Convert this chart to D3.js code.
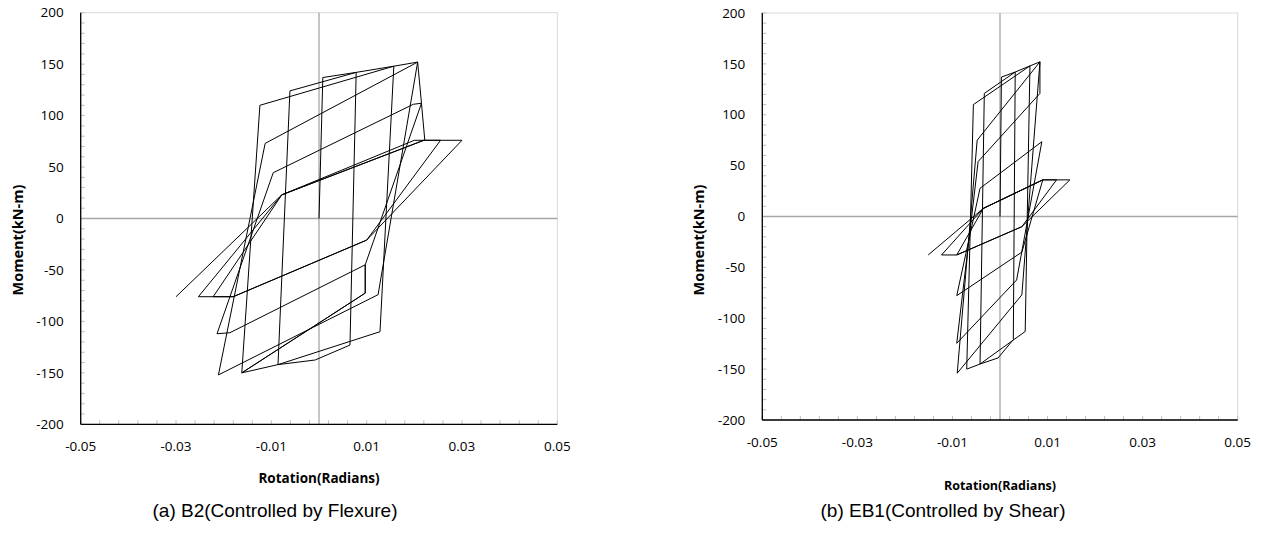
<!DOCTYPE html>
<html>
<head>
<meta charset="utf-8">
<script src="https://cdn.jsdelivr.net/npm/d3@7"></script>
<style>
  body { margin: 0; background: #fff; }
  svg { display: block; }
</style>
</head>
<body>
<svg id="chart" width="1261" height="535"></svg>
<script>
// tick values shared by both panels
const xTicks = [-0.05, -0.03, -0.01, 0.01, 0.03, 0.05];
const xTickLabels = ["-0.05", "-0.03", "-0.01", "0.01", "0.03", "0.05"];
const yTicks = [-200, -150, -100, -50, 0, 50, 100, 150, 200];

// (a) B2 - rotation / moment pairs in loading order
const b2Rotation = [0, 0.0008, 0.0078, 0.0065, -0.0008, -0.0086,
  -0.0061, 0.0078, 0.0157, 0.0128, -0.0086, -0.0162,
  -0.0124, 0.0157, 0.0207, 0.0124, -0.0211,
  -0.0113, 0.0207, 0.0215, 0.0198, -0.0096, -0.0214,
  -0.0187, 0.0097, 0.0097, -0.0162, 0.0097, 0.0097,
  0.0215, 0.0222, 0.0200, -0.0078, -0.0222,
  -0.0180, 0.0100, 0.0255, 0.0220, -0.0078, -0.0253,
  -0.0180, 0.0100, 0.0300, 0.0220, -0.0078, -0.0300];
const b2Moment = [0, 137, 142, -123, -137.5, -142,
  124, 142, 148, -110, -142, -150,
  110, 148, 152, -74, -152,
  73, 152, 112, 111, 44.5, -112,
  -111, -45, -72.5, -150, -72.5, -45,
  112, 76, 76, 23, -76,
  -76, -21, 76, 76, 23, -76,
  -76, -21, 76, 76, 23, -76];

// (b) EB1
const eb1Rotation = [0, 0.0003, 0.0032, 0.0028, -0.0004, -0.0042,
  -0.0033, 0.0032, 0.0063, 0.0053, -0.0042, -0.0070,
  -0.0056, 0.0063, 0.0084, 0.0046, -0.0090,
  -0.0048, 0.0084, 0.0084, -0.0046, -0.0091,
  0.0035, 0.0088, -0.0042, -0.0091, 0.0046, 0.0090,
  -0.0035, -0.0091, 0.0046, 0.0119, 0.0090, -0.0035, -0.0123, -0.0091,
  0.0046, 0.0147, 0.0090, -0.0035, -0.0151];
const eb1Moment = [0, 137, 142, -121, -139, -145,
  121, 142, 148, -113, -145, -150,
  110, 148, 152, -77, -154,
  75, 152, 121, 54, -124.6,
  -62.4, 73.5, 27.7, -77.8, -35, 36,
  8, -37.8, -10, 36, 36, 8, -37.8, -37.8,
  -10, 36, 36, 8, -37.8];

const panels = [
  { rot: b2Rotation, mom: b2Moment, x0: 80.7, x1: 557.3, y0: 12.7, y1: 424.3,
    xTitleY: 483, xTitleSize: 13.5, caption: "(a) B2(Controlled by Flexure)", capX: 275 },
  { rot: eb1Rotation, mom: eb1Moment, x0: 762.3, x1: 1237.7, y0: 13, y1: 420,
    xTitleY: 490, xTitleSize: 12.5, caption: "(b) EB1(Controlled by Shear)", capX: 943 }
];

const svg = d3.select("#chart");
const tickFont = "'Open Sans', sans-serif";

panels.forEach(p => {
  const x = d3.scaleLinear().domain([-0.05, 0.05]).range([p.x0, p.x1]);
  const y = d3.scaleLinear().domain([-200, 200]).range([p.y1, p.y0]);
  const g = svg.append("g");

  // light plot-area frame
  g.append("rect")
    .attr("x", p.x0).attr("y", p.y0)
    .attr("width", p.x1 - p.x0).attr("height", p.y1 - p.y0)
    .attr("fill", "none").attr("stroke", "#d9d9d9").attr("stroke-width", 1);

  // minor ticks inside the plot
  const xMinor = d3.range(0, 26).map(i => -0.05 + i * 0.004);
  g.selectAll(".xm").data(xMinor).enter().append("line")
    .attr("x1", d => x(d)).attr("x2", d => x(d))
    .attr("y1", p.y1).attr("y2", p.y1 - 4)
    .attr("stroke", "#bfbfbf").attr("stroke-width", 1);
  const yMinor = d3.range(-200, 201, 10);
  g.selectAll(".ym").data(yMinor).enter().append("line")
    .attr("x1", p.x0).attr("x2", p.x0 + 4)
    .attr("y1", d => y(d)).attr("y2", d => y(d))
    .attr("stroke", "#bfbfbf").attr("stroke-width", 1);

  // zero cross lines
  g.append("line").attr("x1", x(0)).attr("x2", x(0)).attr("y1", p.y0).attr("y2", p.y1)
    .attr("stroke", "#a6a6a6").attr("stroke-width", 1.3);
  g.append("line").attr("x1", p.x0).attr("x2", p.x1).attr("y1", y(0)).attr("y2", y(0))
    .attr("stroke", "#a6a6a6").attr("stroke-width", 1.3);

  // hysteresis curve
  const pts = p.rot.map((r, i) => [r, p.mom[i]]);
  g.append("path")
    .datum(pts)
    .attr("fill", "none")
    .attr("stroke", "#000")
    .attr("stroke-width", 1)
    .attr("stroke-linejoin", "miter")
    .attr("d", d3.line().x(d => x(d[0])).y(d => y(d[1])));

  // axes lines
  g.append("line").attr("x1", p.x0).attr("x2", p.x0).attr("y1", p.y0).attr("y2", p.y1)
    .attr("stroke", "#000").attr("stroke-width", 1.3);
  g.append("line").attr("x1", p.x0).attr("x2", p.x1).attr("y1", p.y1).attr("y2", p.y1)
    .attr("stroke", "#000").attr("stroke-width", 1.3);

  // tick labels
  g.selectAll(".yl").data(yTicks).enter().append("text")
    .attr("x", p.x0 - 17).attr("y", d => y(d)).attr("dy", "0.35em")
    .attr("text-anchor", "end")
    .style("font-family", tickFont).style("font-size", "13.5px").style("fill", "#000")
    .text(d => d);
  g.selectAll(".xl").data(xTicks).enter().append("text")
    .attr("x", d => x(d)).attr("y", p.y1 + 22).attr("dy", "0.35em")
    .attr("text-anchor", "middle")
    .style("font-family", tickFont).style("font-size", "13.5px").style("fill", "#000")
    .text((d, i) => xTickLabels[i]);

  // axis titles
  g.append("text")
    .attr("transform", `translate(${p.x0 - 63},240) rotate(-90)`)
    .attr("text-anchor", "middle").attr("dy", "0.35em")
    .style("font-family", tickFont).style("font-weight", "bold").style("font-size", "14.5px")
    .text("Moment(kN-m)");
  g.append("text")
    .attr("x", (p.x0 + p.x1) / 2).attr("y", p.xTitleY)
    .attr("text-anchor", "middle")
    .style("font-family", tickFont).style("font-weight", "bold").style("font-size", p.xTitleSize + "px")
    .text("Rotation(Radians)");

  // caption
  g.append("text")
    .attr("x", p.capX).attr("y", 517)
    .attr("text-anchor", "middle")
    .style("font-family", "'Liberation Sans', Arial, sans-serif").style("font-size", "19px")
    .text(p.caption);
});
</script>
</body>
</html>
